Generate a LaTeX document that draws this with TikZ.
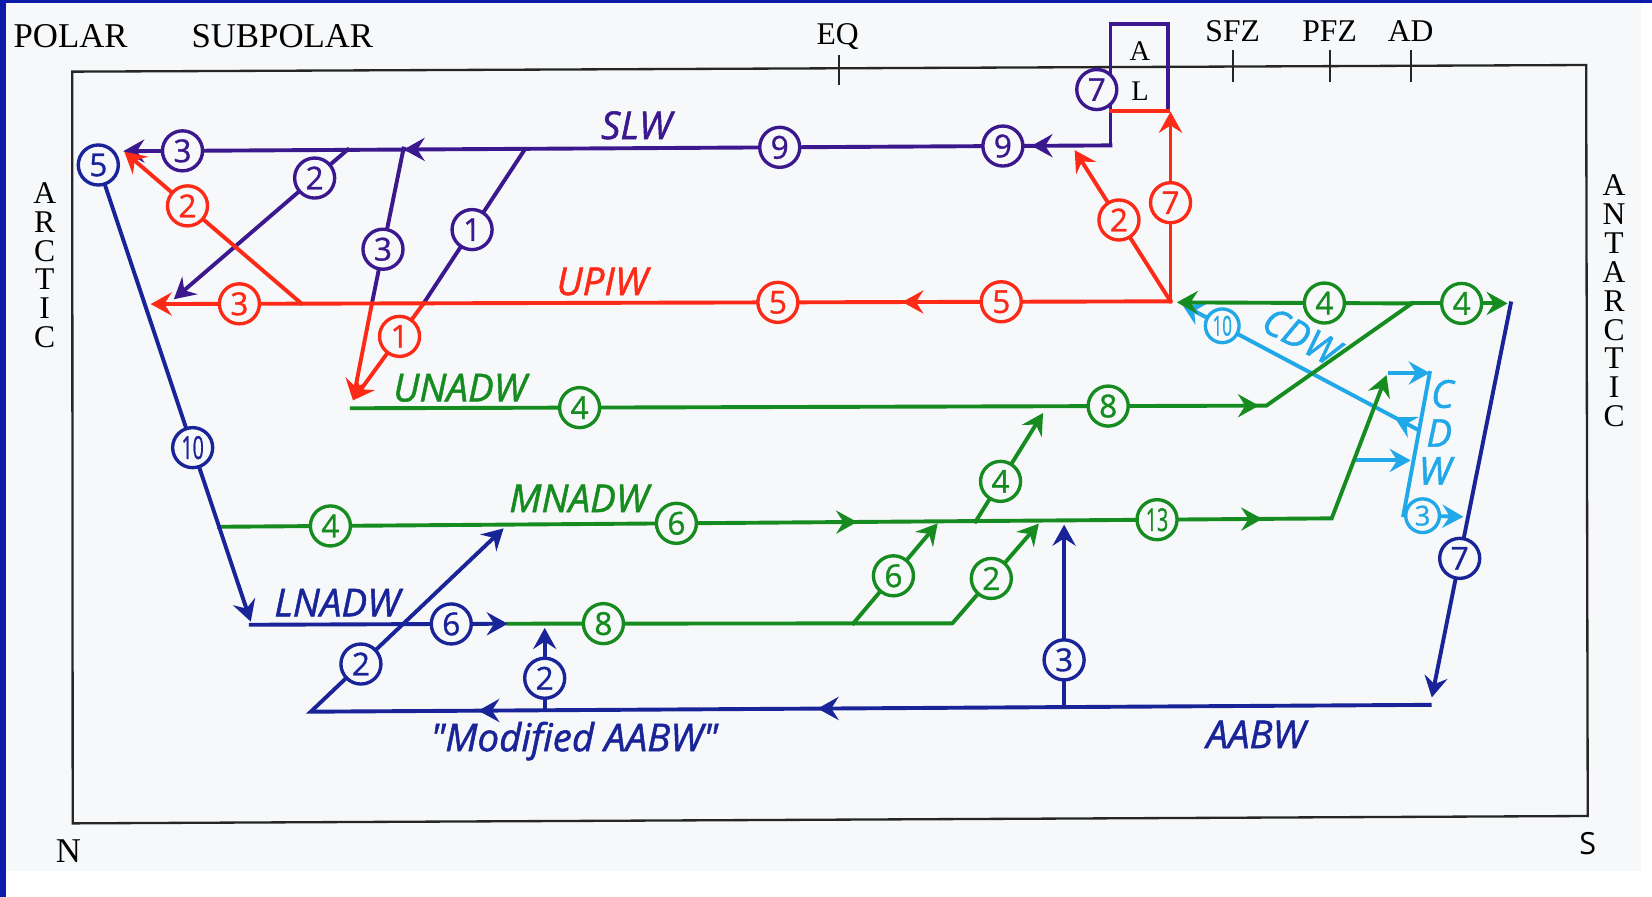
\documentclass[tikz,border=0pt]{standalone}
\usepackage{fontspec}
\usepackage{graphicx}
\setmainfont{Liberation Serif}
\setsansfont{Open Sans}
\newfontfamily\labfont{Open Sans}[FakeBold=1.3]
\newfontfamily\numfont{Open Sans}[FakeBold=1]
\usetikzlibrary{arrows.meta,decorations.markings}

\definecolor{panel}{RGB}{247,248,250}
\definecolor{edge}{RGB}{13,27,170}
\definecolor{slw}{RGB}{60,24,142}
\definecolor{piw}{RGB}{252,42,22}
\definecolor{nadw}{RGB}{22,140,32}
\definecolor{abw}{RGB}{24,36,152}
\definecolor{cdw}{RGB}{32,168,232}

\newcommand\cond[1]{\scalebox{0.62}[1]{#1}}

\tikzset{
  tipm/.tip={Stealth[length=20pt,width=22pt,inset=7pt]},
  flow/.style={line width=3.7pt, line cap=rect, line join=miter},
  arr/.style={-tipm},
  midarrow/.style={postaction={decorate,decoration={markings,
      mark=at position #1 with {\arrow{tipm}}}}},
  midarrows/.style 2 args={postaction={decorate,decoration={markings,
      mark=at position #1 with {\arrow{tipm}},
      mark=at position #2 with {\arrow{tipm}}}}},
  num/.style={circle, draw, line width=3.2pt, fill=panel, minimum size=38pt,
      inner sep=0pt, font=\fontsize{30}{30}\selectfont\numfont},
  numsmall/.style={num, minimum size=32pt, font=\fontsize{26}{26}\selectfont\numfont},
  lab/.style={inner sep=0pt, anchor=base, font=\fontsize{36.5}{36.5}\selectfont\labfont\itshape},
  zone/.style={inner sep=0pt, anchor=base, font=\fontsize{#1}{#1}\selectfont\rmfamily},
  tick/.style={line width=2pt, black!85},
  side/.style={font=\fontsize{30}{30}\selectfont\rmfamily, inner sep=0pt},
}

\begin{document}
\begin{tikzpicture}[x=1pt,y=-1pt]
\useasboundingbox (0,0) rectangle (1568,851);
% page background and blue border strips
\fill[white] (0,0) rectangle (1568,851);
\fill[panel] (6,3) rectangle (1558,827);
\fill[edge] (0,0) rectangle (6,851);
\fill[edge] (0,0) rectangle (1568,3);

% section frame
\draw[line width=2.2pt, black!85] (68.5,68) -- (1505.5,61.7) -- (1507,774.5) -- (69,781.5) -- cycle;

% zone labels along the top
\node[zone=33] (polar) at (67,45) {POLAR};
\node[zone=33] (subpolar) at (268,45) {SUBPOLAR};
\node[zone=30] (eq) at (795,42.5) {EQ};
\node[zone=30] (sfz) at (1170,39.6) {SFZ};
\node[zone=30] (pfz) at (1262,39.6) {PFZ};
\node[zone=30] (ad) at (1339,39.6) {AD};
\draw[tick] (796,52) -- (796,81);
\draw[tick] (1170,47) -- (1170,78);
\draw[tick] (1262,47) -- (1262,78);
\draw[tick] (1339,47) -- (1339,78);

% side and corner labels
\foreach \ch [count=\i from 0] in {A,R,C,T,I,C}
  \node[side] (arc\i) at (42.4,{183.5+27.3*\i}) {\ch};
\foreach \ch [count=\i from 0] in {A,N,T,A,R,C,T,I,C}
  \node[side] (ant\i) at (1532,{176+27.4*\i}) {\ch};
\node[zone=33] (north) at (65,819) {N};
\node[inner sep=0pt, anchor=base, font=\fontsize{29}{29}\selectfont\sffamily] (south) at (1507,811.5) {S};

% ---------------- coordinates ----------------
\coordinate (boxBL) at (1054,105);
\coordinate (boxBR) at (1109,105);
\coordinate (boxTR) at (1109,23);
\coordinate (boxTL) at (1054,23);
\coordinate (slwE) at (1054,138);
\coordinate (slwW) at (117,143.5);
\coordinate (j1) at (498,142);
\coordinate (k1) at (402,288);
\coordinate (j3) at (383,141);
\coordinate (k3) at (353,288);
\coordinate (j2) at (330,142);
\coordinate (k2) at (165,284);
\coordinate (nadwTip) at (335,380);

\coordinate (pj) at (1111,286);
\coordinate (upiwW) at (143,288.6);
\coordinate (r2a) at (286,288);
\coordinate (r2tip) at (118,144);
\coordinate (r7tip) at (1111,106);
\coordinate (r2tipE) at (1020,142.5);

\coordinate (u0) at (334,387.5);
\coordinate (u1) at (1202,385);
\coordinate (gj) at (1340,288);
\coordinate (gW) at (1117,287);
\coordinate (gE) at (1431,288);
\coordinate (m0) at (208,500);
\coordinate (m1) at (1264,492);
\coordinate (mTip) at (1316,356);
\coordinate (l0) at (482,592);
\coordinate (l1) at (904,591.6);
\coordinate (lTip) at (986,497);
\coordinate (b6a) at (810,591.6);
\coordinate (b6tip) at (890,496.7);
\coordinate (b4a) at (926,495);
\coordinate (b4tip) at (990,392);

\coordinate (c5) at (93.3,156.6);
\coordinate (lnTip) at (238,590);
\coordinate (ln0) at (238,593);
\coordinate (rb0) at (1434,288);
\coordinate (rbTip) at (1359,662);
\coordinate (a0) at (1357,669);
\coordinate (a1) at (295,675.5);
\coordinate (aTip) at (478,501.5);
\coordinate (v3a) at (1010,670.7);
\coordinate (v3tip) at (1010,498);
\coordinate (v2a) at (517,673);
\coordinate (v2tip) at (517,596);

\coordinate (cd0) at (1346,408);
\coordinate (cdTip) at (1122,289);
\coordinate (cv0) at (1319,354);
\coordinate (cv1) at (1357,354);
\coordinate (cv2) at (1332,489);
\coordinate (cv3) at (1389,490.5);
\coordinate (ch0) at (1288,437);
\coordinate (ch1) at (1339,437);

% ---------------- Circumpolar Deep Water ----------------
\draw[cdw,flow,arr,midarrow=0.1] (cd0) -- node[numsmall,pos=0.83] (cdA) {\cond{10}} (cdTip);
\draw[cdw,flow,arr] (cv0) -- (cv1);
\draw[cdw,flow,arr] (cv1) -- (cv2) -- node[numsmall,pos=0.32] (cdB) {3} (cv3);
\draw[cdw,flow,arr] (ch0) -- (ch1);
\node[lab, anchor=center, text=cdw, rotate=-28, font=\fontsize{36}{36}\selectfont\labfont\itshape] (cdwlab) at (1235,319) {CDW};
\node[lab, anchor=center, text=cdw] (cdwC) at (1369,374) {C};
\node[lab, anchor=center, text=cdw] (cdwD) at (1366,411) {D};
\node[lab, anchor=center, text=cdw] (cdwW) at (1362,447) {W};

% ---------------- Subantarctic / Labrador water ----------------
\draw[slw,flow] (boxBR) -- (boxTR) -- (boxTL) -- (slwE);
\draw[slw,flow,arr,midarrows={0.080}{0.716}] (slwE) --
  node[num,pos=0.109] (s9a) {9}
  node[num,pos=0.335] (s9b) {9}
  node[num,pos=0.940] (s3) {3} (slwW);
\draw[slw,flow] (j1) -- node[num,pos=0.52] (s1) {1} (k1);
\draw[slw,flow] (j3) -- node[num,pos=0.65] (s3b) {3} (k3);
\draw[slw,flow,arr] (j2) -- node[num,pos=0.19] (s2) {2} (k2);
\node[num, draw=slw, text=slw] (s7) at (1041,85) {7};

% ---------------- Upper intermediate water ----------------
\draw[piw,flow,arr,midarrow=0.263] (pj) --
  node[num,pos=0.166] (p5a) {5}
  node[num,pos=0.385] (p5b) {5}
  node[num,pos=0.913] (p3) {3} (upiwW);
\draw[piw,flow,arr] (r2a) -- node[num,pos=0.643] (p2) {2} (r2tip);
\draw[piw,flow,arr] (k1) -- node[num,pos=0.34] (p1) {1} (nadwTip);
\draw[piw,flow,arr] (k3) -- (nadwTip);
\draw[piw,flow,arr] (pj) -- node[num,pos=0.52] (p7) {7} (r7tip);
\draw[piw,flow,arr] (pj) -- node[num,pos=0.538] (p2b) {2} (r2tipE);
\draw[piw,flow] (boxBL) -- (boxBR);

% ---------------- North Atlantic deep water ----------------
\draw[nadw,flow,midarrow=0.8305] (u0) --
  node[num,pos=0.249] (g4a) {4}
  node[num,pos=0.827] (g8a) {8} (u1) -- (gj);
\draw[nadw,flow,arr] (gj) -- node[num,pos=0.372] (g4b) {4} (gW);
\draw[nadw,flow,arr] (gj) -- node[num,pos=0.52] (g4c) {4} (gE);
\draw[nadw,flow,arr,midarrows={0.504}{0.824}] (m0) --
  node[num,pos=0.1] (g4d) {4}
  node[num,pos=0.411] (g6a) {6}
  node[num,pos=0.843] (g13) {\cond{13}} (m1) -- (mTip);
\draw[nadw,flow,arr] (l0) -- node[num,pos=0.215] (g8b) {8} (l1) -- node[num,pos=0.45] (g2a) {2} (lTip);
\draw[nadw,flow,arr] (b6a) -- node[num,pos=0.475] (g6b) {6} (b6tip);
\draw[nadw,flow,arr] (b4a) -- node[num,pos=0.37] (g4e) {4} (b4tip);

% ---------------- Bottom water ----------------
\draw[abw,flow,arr] (c5) node[num] (b5) {5} -- node[num,pos=0.619] (b10) {\cond{10}} (lnTip);
\draw[abw,flow,arr] (ln0) -- node[num,pos=0.78] (b6) {6} (l0);
\draw[abw,flow,arr] (rb0) -- node[num,pos=0.647] (b7) {7} (rbTip);
\draw[abw,flow,arr,midarrows={0.442}{0.687}] (a0) -- (a1) -- node[num,pos=0.26] (b2a) {2} (aTip);
\draw[abw,flow,arr] (v3a) -- node[num,pos=0.257] (b3) {3} (v3tip);
\draw[abw,flow,arr] (v2a) -- node[num,pos=0.38] (b2b) {2} (v2tip);

% ---------------- box and water-mass names ----------------
\node[zone=27] (boxA) at (1082,57) {A};
\node[zone=27] (boxL) at (1082,95) {L};
\node[lab, text=slw] (slwlab) at (604,132) {SLW};
\node[lab, text=piw] (upiwlab) at (571.5,280) {UPIW};
\node[lab, text=nadw] (unadwlab) at (436.5,381) {UNADW};
\node[lab, text=nadw] (mnadwlab) at (549.5,486) {MNADW};
\node[lab, text=abw] (lnadwlab) at (320,585) {LNADW};
\node[lab, text=abw] (modlab) at (545,713) {"Modified AABW"};
\node[lab, text=abw] (aabwlab) at (1192,710) {AABW};
\end{tikzpicture}
\end{document}
